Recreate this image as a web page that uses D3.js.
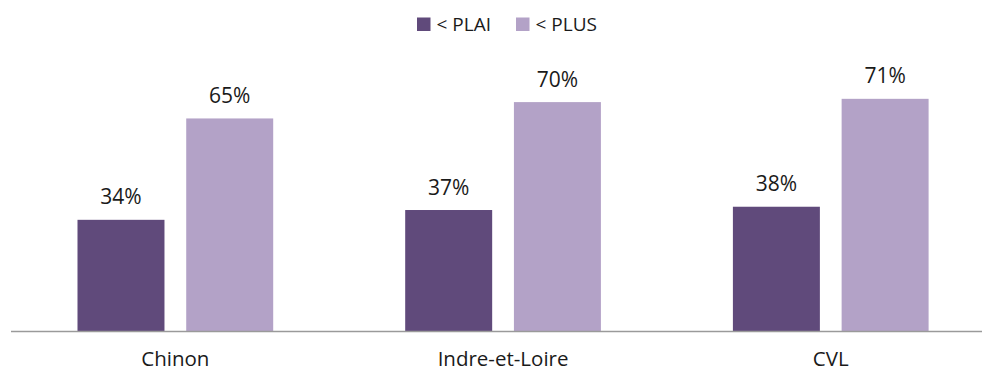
<!DOCTYPE html>
<html>
<head>
<meta charset="utf-8">
<script src="https://cdn.jsdelivr.net/npm/d3@7/dist/d3.min.js"></script>
<style>
  html, body { margin: 0; padding: 0; background: #fff; }
  svg { display: block; font-family: "Open Sans", "Liberation Sans", sans-serif; }
</style>
</head>
<body>
<svg id="chart" width="982" height="371"></svg>
<script>
// Share of households under each income ceiling, by territory
const categories = ["Chinon", "Indre-et-Loire", "CVL"];
const seriesNames = ["< PLAI", "< PLUS"];
const plaiValues = [34, 37, 38];
const plusValues = [65, 70, 71];
const seriesColors = ["#604a7b", "#b3a2c7"];

const rows = categories.map((c, i) => ({ category: c, values: [plaiValues[i], plusValues[i]] }));

const svg = d3.select("#chart");
const baseline = 331;

const x0 = d3.scaleBand()
  .domain(categories)
  .range([11.5, 994.6])
  .padding(0);

const x1 = d3.scaleBand()
  .domain(seriesNames)
  .range([0, x0.bandwidth()])
  .paddingInner(0.2)
  .paddingOuter(0.607);

const y = d3.scaleLinear()
  .domain([0, 100])
  .range([baseline, baseline - 327]);

// Bars
const groups = svg.append("g")
  .selectAll("g")
  .data(rows)
  .join("g")
  .attr("transform", d => `translate(${x0(d.category)},0)`);

const cells = groups.selectAll("g")
  .data(d => d.values.map((v, j) => ({ name: seriesNames[j], value: v, color: seriesColors[j] })))
  .join("g");

cells.append("rect")
  .attr("x", d => x1(d.name))
  .attr("y", d => y(d.value))
  .attr("width", x1.bandwidth())
  .attr("height", d => y(0) - y(d.value))
  .attr("fill", d => d.color);

// Value labels above each bar
cells.append("text")
  .attr("x", d => x1(d.name) + x1.bandwidth() / 2)
  .attr("y", d => y(d.value) - 15.5)
  .attr("text-anchor", "middle")
  .attr("font-size", 21)
  .attr("fill", "#1a1a1a")
  .text(d => d.value + "%");

// Category axis
const xAxis = d3.axisBottom(x0).tickSize(0).tickPadding(0);
const axisG = svg.append("g")
  .attr("transform", `translate(0,${baseline})`)
  .call(xAxis);
axisG.select(".domain")
  .attr("d", `M11,0.5H982`)
  .attr("stroke", "#9a9a9a")
  .attr("stroke-width", 1.4);
axisG.selectAll(".tick text")
  .attr("y", 35)
  .attr("dy", 0)
  .attr("font-size", 20.5)
  .attr("font-family", "'Open Sans', 'Liberation Sans', sans-serif")
  .attr("fill", "#1a1a1a");

// Legend
const legendX = [417, 516];
const legend = svg.append("g")
  .selectAll("g")
  .data(seriesNames)
  .join("g")
  .attr("transform", (d, i) => `translate(${legendX[i]},17.5)`);
legend.append("rect")
  .attr("width", 13.5)
  .attr("height", 13.5)
  .attr("fill", (d, i) => seriesColors[i]);
legend.append("text")
  .attr("x", 19.5)
  .attr("y", 13.5)
  .attr("font-size", 19)
  .attr("fill", "#1a1a1a")
  .text(d => d);
</script>
</body>
</html>
